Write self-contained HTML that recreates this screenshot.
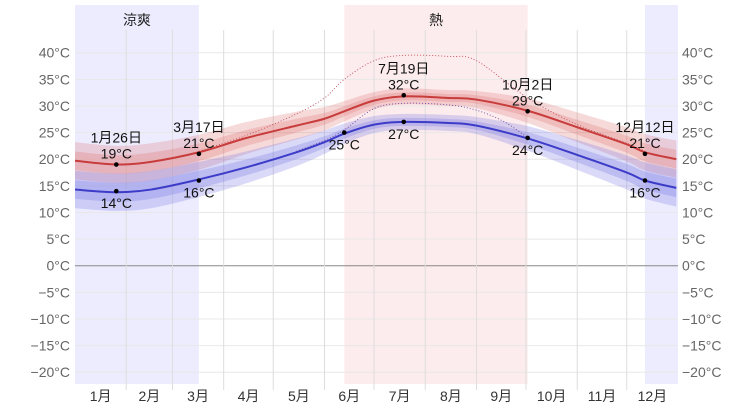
<!DOCTYPE html>
<html><head><meta charset="utf-8"><style>
body{margin:0;background:#fff}
svg{display:block;font-family:"Liberation Sans","Noto Sans CJK JP",sans-serif}
</style></head><body>
<svg id="c" width="753" height="407"></svg>
<script>
const days=[0,25,46,75,104,134,151,163,181,199,226,243,274,304,334,345,364];
const highs=[19.7,19.0,19.5,21.3,24.0,26.3,27.6,29.0,31.0,31.8,31.5,31.2,29.1,26.0,22.8,21.3,20.0];
const lows=[14.3,13.8,14.3,16.2,18.5,21.3,23.2,24.8,26.5,27.0,26.8,26.3,23.9,20.8,17.5,16.0,14.6];
const spread=[3.5,3.5,3.5,3.3,3.0,2.6,2.2,1.9,1.6,1.5,1.5,1.6,2.3,2.8,3.2,3.4,3.5];
const feelHighDays=[75,104,134,151,163,181,199,226,243,274,304,334,345];
const feelHigh=[21.5,24.5,28.5,31.5,35,38.5,39.5,39.3,38.5,31.5,26.5,23,21.5];
const feelLowDays=[134,151,163,181,199,226,243,260,274];
const feelLow=[21.5,23.5,25.5,29.5,30.5,30.2,29.2,27,24];
const yTicks=[40,35,30,25,20,15,10,5,0,-5,-10,-15,-20];
const months=["1月","2月","3月","4月","5月","6月","7月","8月","9月","10月","11月","12月"];
const monthStarts=[0,31,59,90,120,151,181,212,243,273,304,334,365];
const seasons=[{name:"涼爽",s:0,e:75,c:"#ececfe"},{name:"",s:345,e:365,c:"#ececfe"},{name:"熱",s:163,e:274,c:"#fdeced"}];
const annDays=[25,75,199,274,345];
const annDates=["1月26日","3月17日","7月19日","10月2日","12月12日"];
const annHigh=[19,21,32,29,21];
const annLowDays=[25,75,163,199,274,345];
const annLow=[14,16,25,27,24,16];

const X0=75,X1=678;
const x=d=>X0+d*(X1-X0)/365;
const y=t=>265.7-t*5.325;
const svg=document.getElementById('c');
const NS="http://www.w3.org/2000/svg";
function mk(tag,attrs,parent){const e=document.createElementNS(NS,tag);for(const k in attrs)e.setAttribute(k,attrs[k]);(parent||svg).appendChild(e);return e;}
function path(ds,vs){
  const p=ds.map((d,i)=>[x(d),y(vs[i])]);
  let s="M"+p[0][0]+","+p[0][1];
  for(let i=0;i<p.length-1;i++){
    const a=p[i-1]||p[i],b=p[i],c=p[i+1],d=p[i+2]||c;
    s+=" C"+(b[0]+(c[0]-a[0])/6)+","+(b[1]+(c[1]-a[1])/6)+" "+(c[0]-(d[0]-b[0])/6)+","+(c[1]-(d[1]-b[1])/6)+" "+c[0]+","+c[1];
  }
  return s;
}
function band(vs,k){
  const up=vs.map((v,i)=>v+spread[i]*k),dn=vs.map((v,i)=>v-spread[i]*k);
  const a=path(days,up);
  const rd=days.slice().reverse(),rv=dn.slice().reverse();
  return a+" L"+path(rd,rv).slice(1)+" Z";
}
seasons.forEach(s=>{
  const r=mk('rect',{x:x(s.s),y:5,width:x(s.e)-x(s.s),height:379,fill:s.c});
  
  
  if(s.name){const t=mk('text',{x:(x(s.s)+x(s.e))/2,y:25,'text-anchor':'middle','font-size':14,fill:'#222'});t.textContent=s.name;
  
  }
});
yTicks.forEach(t=>{
  const l=mk('line',{x1:X0,x2:X1,y1:y(t),y2:y(t),stroke:t===0?'#888':'#e8e8e8','stroke-width':1});
  
  
  const a=mk('text',{x:70,y:y(t)+5,'text-anchor':'end','font-size':14,fill:'#666'});
  a.textContent=(t<0?"−"+(-t):t)+"°C";
  
  
  const b=mk('text',{x:682,y:y(t)+5,'font-size':14,fill:'#666'});b.textContent=(t<0?"−"+(-t):t)+"°C";
  
  
});
monthStarts.slice(1,12).forEach(d=>{
  const l=mk('line',{x1:x(d),x2:x(d),y1:30,y2:390,stroke:'#ddd','stroke-width':1});
  
  
});
months.forEach((m,i)=>{
  const t=mk('text',{x:x((monthStarts[i]+monthStarts[i+1])/2),y:401,'text-anchor':'middle','font-size':14,fill:'#333'});t.textContent=m;
  
  
});
[[highs,'#e07a7a'],[lows,'#7a7ae6']].forEach(([v,c])=>{
  const o=mk('path',{d:band(v,1),fill:c,'fill-opacity':0.28});
  
  
  const i=mk('path',{d:band(v,0.5),fill:c,'fill-opacity':0.3});
  
  
});
const fh=mk('path',{d:path(feelHighDays,feelHigh),fill:'none',stroke:'#c04a5a','stroke-width':0.9,'stroke-dasharray':'1,2'});


const fl=mk('path',{d:path(feelLowDays,feelLow),fill:'none',stroke:'#6a4aa0','stroke-width':0.9,'stroke-dasharray':'1,2'});


const hl=mk('path',{d:path(days,highs),fill:'none',stroke:'#c83c3c','stroke-width':2});


const ll=mk('path',{d:path(days,lows),fill:'none',stroke:'#3c3cc8','stroke-width':2});


annDays.forEach((d,i)=>{
  const c=mk('circle',{cx:x(d),cy:y(annHigh[i]),r:2.3,fill:'#000'});
  
  
  const a=mk('text',{x:x(d),y:y(annHigh[i])-22,'text-anchor':'middle','font-size':14,fill:'#111'});a.textContent=annDates[i];
  
  
  const b=mk('text',{x:x(d),y:y(annHigh[i])-6,'text-anchor':'middle','font-size':14,fill:'#111'});b.textContent=annHigh[i]+"°C";
  
  
});
annLowDays.forEach((d,i)=>{
  const c=mk('circle',{cx:x(d),cy:y(annLow[i]),r:2.3,fill:'#000'});
  
  
  const b=mk('text',{x:x(d),y:y(annLow[i])+17,'text-anchor':'middle','font-size':14,fill:'#111'});b.textContent=annLow[i]+"°C";
  
  
});
</script>
</body></html>
